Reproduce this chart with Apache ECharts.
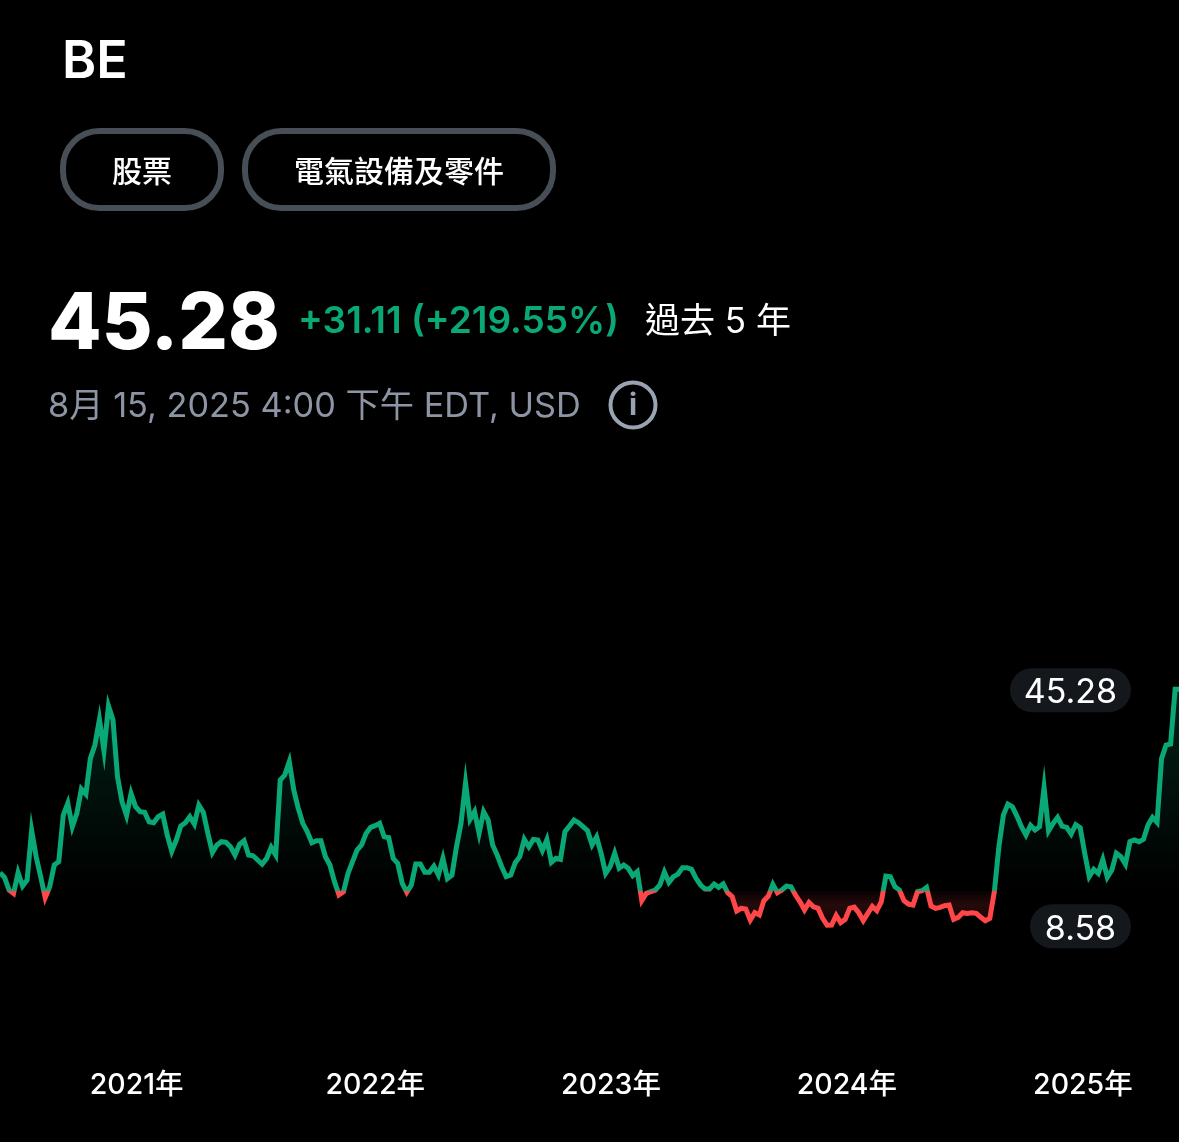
<!DOCTYPE html>
<html><head><meta charset="utf-8">
<style>html,body{margin:0;padding:0;background:#000}#c{width:1179px;height:1142px}</style>
<script src="https://cdn.jsdelivr.net/npm/echarts@6/dist/echarts.min.js"></script>
</head><body><div id="c"></div>
<script>
const ticker = 'BE';
const tags = ['股票', '電氣設備及零件'];
const lastPrice = 45.28;
const basePrice = 14.17;
const lowPrice = 8.58;
const changeText = '+31.11 (+219.55%)';
const periodText = '過去 5 年';
const timeText = '8月 15, 2025 4:00 下午 EDT, USD';
const yearTicks = ['2021-01-01', '2022-01-01', '2023-01-01', '2024-01-01', '2025-01-01'];
const startDate = '2020-08-15';
const endDate = '2025-08-15';
const prices = [
16.99,16.27,14.32,13.80,17.00,14.94,15.86,23.50,19.46,16.38,
13.16,14.84,18.18,18.69,25.88,27.70,24.08,26.14,29.90,29.10,
34.61,36.67,40.60,35.80,42.70,40.52,31.79,27.93,25.80,29.20,
27.16,26.39,26.29,24.85,24.70,25.62,26.03,22.80,20.30,22.03,
24.18,24.70,25.62,24.49,27.40,26.29,23.05,20.10,21.26,21.77,
21.67,21.00,19.72,21.36,21.92,19.72,19.61,18.95,18.33,19.20,
20.90,19.72,31.27,32.04,34.10,29.73,26.91,24.60,23.31,21.62,
21.92,21.92,19.46,18.18,15.61,13.60,14.07,16.89,18.69,20.49,
21.26,23.05,23.98,24.24,24.60,22.54,22.39,19.20,18.43,15.35,
14.00,15.10,18.33,18.33,17.05,17.05,18.00,16.64,19.20,16.10,
16.64,21.00,24.60,30.80,25.22,26.40,23.06,26.40,25.11,21.26,
19.72,17.92,16.38,16.64,18.54,19.46,22.13,21.00,22.13,22.03,
20.40,22.10,18.60,19.21,19.05,23.32,24.19,25.11,24.70,24.09,
23.47,21.30,22.50,19.98,16.90,17.92,20.00,17.70,18.18,17.67,
16.54,17.15,12.70,13.81,14.07,14.33,15.10,17.10,15.50,16.38,
16.79,17.77,17.77,17.51,16.13,15.10,14.48,14.48,15.25,14.74,
15.25,13.92,13.30,11.10,11.50,11.40,9.70,10.84,10.48,12.68,
13.40,15.20,13.92,14.33,14.94,14.84,13.55,12.52,11.24,12.40,
11.75,11.50,9.96,8.90,8.93,10.40,9.30,9.80,11.50,11.70,
10.83,9.60,10.73,11.80,11.14,12.52,16.48,16.38,14.84,14.32,
12.68,12.16,12.01,14.07,14.22,14.73,11.86,11.50,11.65,11.91,
12.01,9.80,10.11,10.83,10.73,10.83,10.73,10.11,9.60,9.96,
14.07,20.96,25.88,27.57,27.16,25.72,24.08,22.80,24.30,23.57,
24.08,30.10,23.45,24.59,25.52,24.18,23.98,22.95,24.40,23.93,
19.97,16.40,17.50,16.89,19.00,16.30,17.40,20.00,19.46,18.30,
21.77,22.03,21.77,22.13,24.34,25.52,24.75,34.61,36.66,36.82,
45.28,45.28
];

const GREEN = '#0aa876', RED = '#ff4648', CJK = '"Inter","Noto Sans CJK TC",sans-serif';
const t0 = Date.parse(startDate + 'T00:00:00Z'), t1 = Date.parse(endDate + 'T00:00:00Z');
const seriesData = prices.map((p, i) => [Math.min(t0 + i * 7 * 864e5, t1), p]);
const yearMs = yearTicks.map(d => Date.parse(d + 'T00:00:00Z'));

const chart = echarts.init(document.getElementById('c'), null, {renderer: 'canvas'});
const gridTop = 593.6, gridH = 389.4;
const opt = {
  backgroundColor: '#000', animation: false,
  grid: {left: 0, right: 0, top: gridTop, height: gridH},
  xAxis: {type: 'value', min: t0, max: t1, scale: true,
    axisLine: {show: false}, axisTick: {show: false}, splitLine: {show: false},
    axisLabel: {customValues: yearMs,
      formatter: v => new Date(v).getUTCFullYear() + '年',
      color: '#fff', fontFamily: CJK, fontSize: 28.5, fontWeight: 500, align: 'left', margin: 88}},
  yAxis: {type: 'value', min: 0, max: 60, show: false, splitLine: {show: false}},
  series: [{type: 'line', data: seriesData, showSymbol: false, symbol: 'none', smooth: false, clip: false,
    lineStyle: {width: 5, join: 'miter', miterLimit: 20, color: GREEN},
    areaStyle: {origin: basePrice, opacity: 1, color: 'rgba(0,0,0,0)'}}]
};
chart.setOption(opt);

const py = v => chart.convertToPixel({yAxisIndex: 0}, v);
const yBase = py(basePrice), yHi = py(lastPrice), yLo = py(lowPrice);
const span = yLo - yHi;
const stop = y => (y - yHi) / span;
const sb = stop(yBase);
const areaGrad = new echarts.graphic.LinearGradient(0, yHi, 0, yLo, [
  {offset: 0, color: 'rgba(10,168,118,0.20)'},
  {offset: sb - 0.001, color: 'rgba(10,168,118,0)'},
  {offset: sb, color: 'rgba(255,70,72,0.03)'},
  {offset: stop(yBase + 14), color: 'rgba(255,70,72,0.15)'},
  {offset: 1, color: 'rgba(255,70,72,0.06)'}
], true);
const lineGrad = new echarts.graphic.LinearGradient(0, yHi, 0, yLo, [
  {offset: 0, color: GREEN},
  {offset: sb, color: GREEN},
  {offset: sb, color: RED},
  {offset: 1, color: RED}
], true);

const txt = (text, x, y, font, fill, align) => ({type: 'text', silent: true, z: 10,
  style: {text, x, y, font, fill, textAlign: align || 'left', textVerticalAlign: 'middle'}});
const pill = (x, y, w, h) => ({type: 'rect', silent: true, z: 9,
  shape: {x, y, width: w, height: h, r: h / 2 - 2}, style: {fill: 'transparent', stroke: '#484e55', lineWidth: 6}});
const valuePill = (label, xLeft, yc) => ([
  {type: 'rect', silent: true, z: 9, shape: {x: xLeft, y: yc - 22, width: 1131 - xLeft, height: 44, r: 22}, style: {fill: '#14171c'}},
  txt(label, (xLeft + 1131) / 2, yc + 3, `400 34px ${CJK}`, '#fff', 'center')
]);

chart.setOption({
  series: [{lineStyle: {color: lineGrad}, areaStyle: {origin: basePrice, opacity: 1, color: areaGrad}}],
  graphic: {elements: [
    txt(ticker, 62, 62, `600 52px ${CJK}`, '#fff'),
    pill(63, 131, 158, 77), pill(245, 131, 308, 77),
    txt(tags[0], 142, 171, `500 30px "Noto Sans CJK TC"`, '#fff', 'center'),
    txt(tags[1], 399, 171, `500 30px "Noto Sans CJK TC"`, '#fff', 'center'),
    txt(lastPrice.toFixed(2), 48, 326, `800 78px ${CJK}`, '#fff'),
    txt(changeText, 298, 322, `600 37px ${CJK}`, GREEN),
    txt(periodText, 645, 322, `400 35px ${CJK}`, '#fff'),
    txt(timeText, 48, 407, `400 34.3px ${CJK}`, '#8d95a5'),
    {type: 'circle', silent: true, z: 9, shape: {cx: 633, cy: 405, r: 22.5}, style: {fill: 'transparent', stroke: '#9aa3b2', lineWidth: 4}},
    txt('i', 633, 406, `700 30px ${CJK}`, '#9aa3b2', 'center'),
    ...valuePill(lastPrice.toFixed(2), 1010, yHi + 1),
    ...valuePill(lowPrice.toFixed(2), 1030, yLo - 1)
  ]}
});
</script></body></html>
